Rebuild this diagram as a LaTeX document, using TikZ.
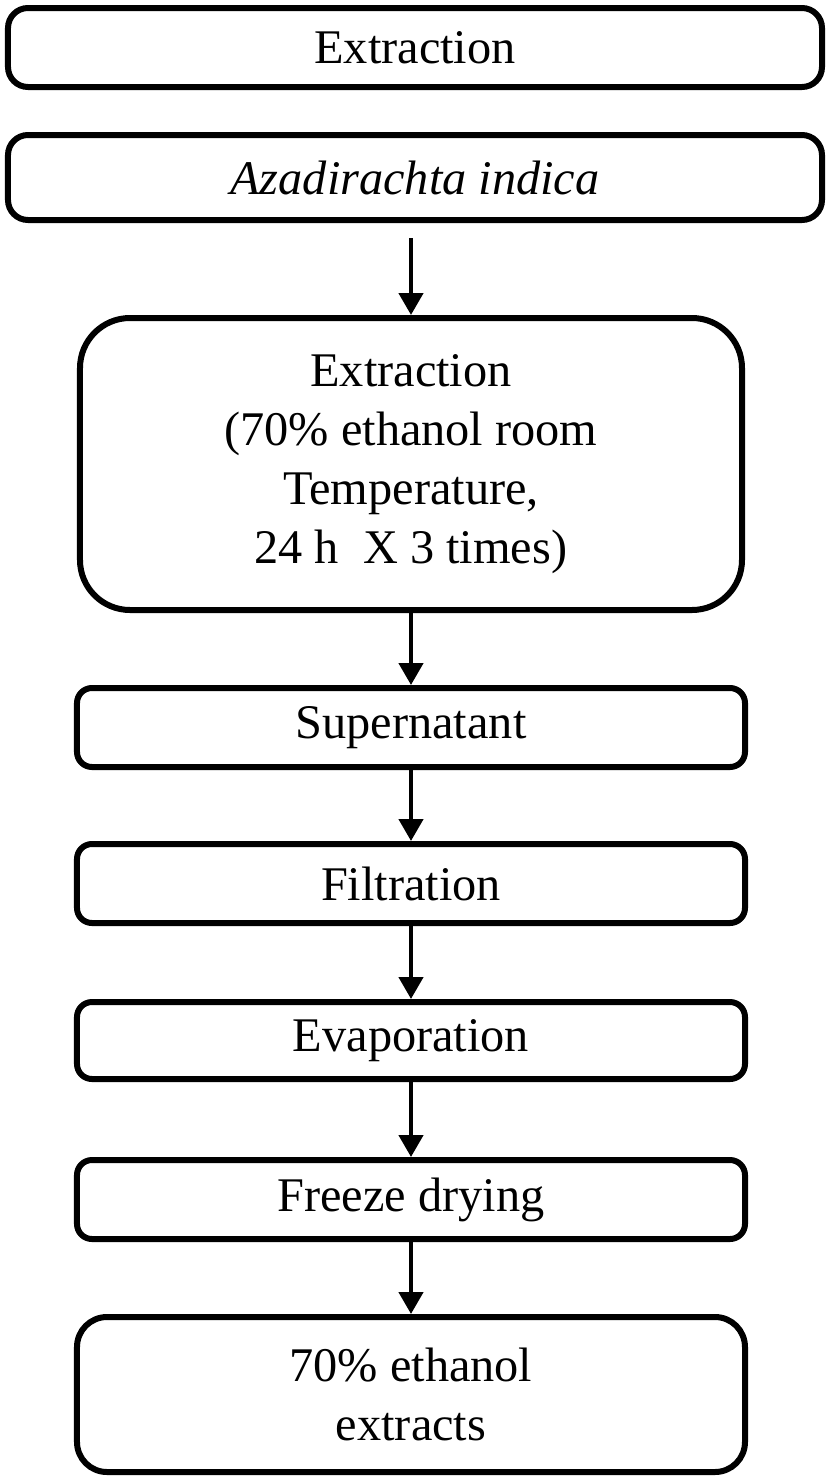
\documentclass[tikz,border=0pt]{standalone}
\usepackage{fontspec}
\setmainfont{Liberation Serif}
\usetikzlibrary{arrows.meta,positioning}

\begin{document}
\begin{tikzpicture}[
  font=\fontsize{27.5}{33.5}\selectfont,
  wide/.style={draw, line width=1.2mm, rounded corners=4mm, align=center,
    inner sep=0pt, minimum width=162.8mm, minimum height=15.8mm},
  stage/.style={draw, line width=1.2mm, rounded corners=3mm, align=center,
    inner sep=0pt, minimum width=133.6mm, minimum height=15.8mm},
  arr/.style={-{Triangle[length=4.4mm, width=4.8mm]}, line width=0.9mm}
]

% ── top: the plant ──────────────────────────────────────────────────────
\node[wide] (title) at (0,0) {Extraction};
\node[wide, below=8.4mm of title, minimum height=17mm] (plant)
  {\textit{Azadirachta indica}};

% ── the extraction step ─────────────────────────────────────────────────
\node[stage, below=18.4mm of plant, xshift=-0.8mm, minimum width=132.4mm,
  minimum height=58.4mm, rounded corners=10mm] (ext)
  {Extraction\\ (70\% ethanol room\\ Temperature,\\ 24 h~~X 3 times)};

% ── work-up chain ───────────────────────────────────────────────────────
\node[stage, below=14.4mm of ext] (super) {Supernatant};
\node[stage, below=14.2mm of super] (filt) {Filtration};
\node[stage, below=14.6mm of filt, minimum height=15.4mm] (evap) {Evaporation};
\node[stage, below=15mm of evap] (freeze) {Freeze drying};
\node[stage, below=14.4mm of freeze, minimum height=31mm, rounded corners=6mm]
  (final) {70\% ethanol\\ extracts};

\draw[arr, shorten <=3mm] (plant.south -| ext.north) -- (ext.north);
\draw[arr] (ext) -- (super);
\draw[arr] (super) -- (filt);
\draw[arr] (filt) -- (evap);
\draw[arr] (evap) -- (freeze);
\draw[arr] (freeze) -- (final);

\useasboundingbox (-83mm,9.5mm) rectangle (82.4mm,-285.7mm);
\end{tikzpicture}
\end{document}
